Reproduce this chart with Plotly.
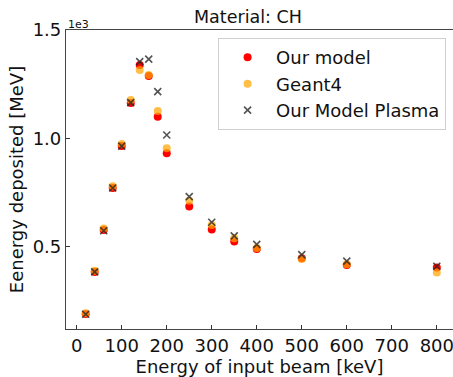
import plotly.graph_objects as go

energy_kev = [20, 40, 60, 80, 100, 120, 140, 160, 180, 200, 250, 300, 350, 400, 500, 600, 800]
our_model = [191, 385, 578, 772, 965, 1164, 1339, 1288, 1100, 932, 686, 581, 525, 491, 448, 417, 406]
geant4 = [195, 390, 585, 780, 975, 1177, 1316, 1293, 1127, 955, 713, 601, 540, 495, 445, 420, 382]
our_model_plasma = [190, 385, 575, 772, 965, 1165, 1354, 1366, 1216, 1016, 732, 614, 551, 512, 465, 435, 411]

x_ticks = [0, 100, 200, 300, 400, 500, 600, 700, 800]
y_ticks = [500, 1000, 1500]
y_tick_labels = ["0.5", "1.0", "1.5"]

FONT = "DejaVu Sans"
FS = 18

fig = go.Figure()
fig.add_trace(go.Scatter(
    x=energy_kev, y=our_model, mode="markers", name="Our model", legendgroup="a",
    marker=dict(symbol="circle", size=8, color="#ff0000", line=dict(width=0)),
))
fig.add_trace(go.Scatter(
    x=energy_kev, y=geant4, mode="markers", name="Geant4", legendgroup="b",
    marker=dict(symbol="circle", size=8, color="rgba(255,165,0,0.72)", line=dict(width=0)),
))
fig.add_trace(go.Scatter(
    x=energy_kev, y=our_model_plasma, mode="markers", name="Our Model Plasma", legendgroup="c",
    marker=dict(symbol="x-thin", size=7, color="rgba(40,40,40,0.8)",
                line=dict(width=1.6, color="rgba(40,40,40,0.8)")),
))

fig.update_layout(
    width=453, height=377,
    margin=dict(l=66, r=0, t=30, b=48),
    paper_bgcolor="white", plot_bgcolor="white",
    font=dict(family=FONT, size=FS, color="#111"),
    showlegend=True,
    legend=dict(
        x=0.393, y=0.973, xanchor="left", yanchor="top",
        bgcolor="white", bordercolor="#d0d0d0", borderwidth=1,
        font=dict(family=FONT, size=FS, color="#111"),
        tracegroupgap=0, itemwidth=47,
    ),
    xaxis=dict(
        range=[-23.8, 836], tickvals=x_ticks, ticks="inside", ticklen=4,
        tickcolor="#333", showline=True, linecolor="#444", linewidth=1.2,
        mirror=True, showgrid=False, zeroline=False, ticklabeloverflow="allow",
        tickfont=dict(family=FONT, size=FS, color="#111"),
        title=dict(text="Energy of input beam [keV]", standoff=0,
                   font=dict(family=FONT, size=FS, color="#111")),
    ),
    yaxis=dict(
        range=[122, 1500], tickvals=y_ticks, ticktext=y_tick_labels,
        ticks="inside", ticklen=4, tickcolor="#333",
        showline=True, linecolor="#444", linewidth=1.2,
        showgrid=False, zeroline=False,
        tickfont=dict(family=FONT, size=FS, color="#111"),
        title=dict(text="Eenergy deposited [MeV]", standoff=4,
                   font=dict(family=FONT, size=FS, color="#111")),
    ),
    annotations=[
        dict(text="Material: CH", xref="paper", yref="paper", x=0.47, y=1.0,
             xanchor="center", yanchor="bottom", yshift=1, showarrow=False,
             font=dict(family=FONT, size=17.5, color="#111")),
        dict(text="1e3", xref="paper", yref="paper", x=0.0, y=1.0,
             xanchor="left", yanchor="bottom", yshift=-3, showarrow=False,
             font=dict(family=FONT, size=11, color="#111")),
    ],
)

fig.write_html("out.html")
